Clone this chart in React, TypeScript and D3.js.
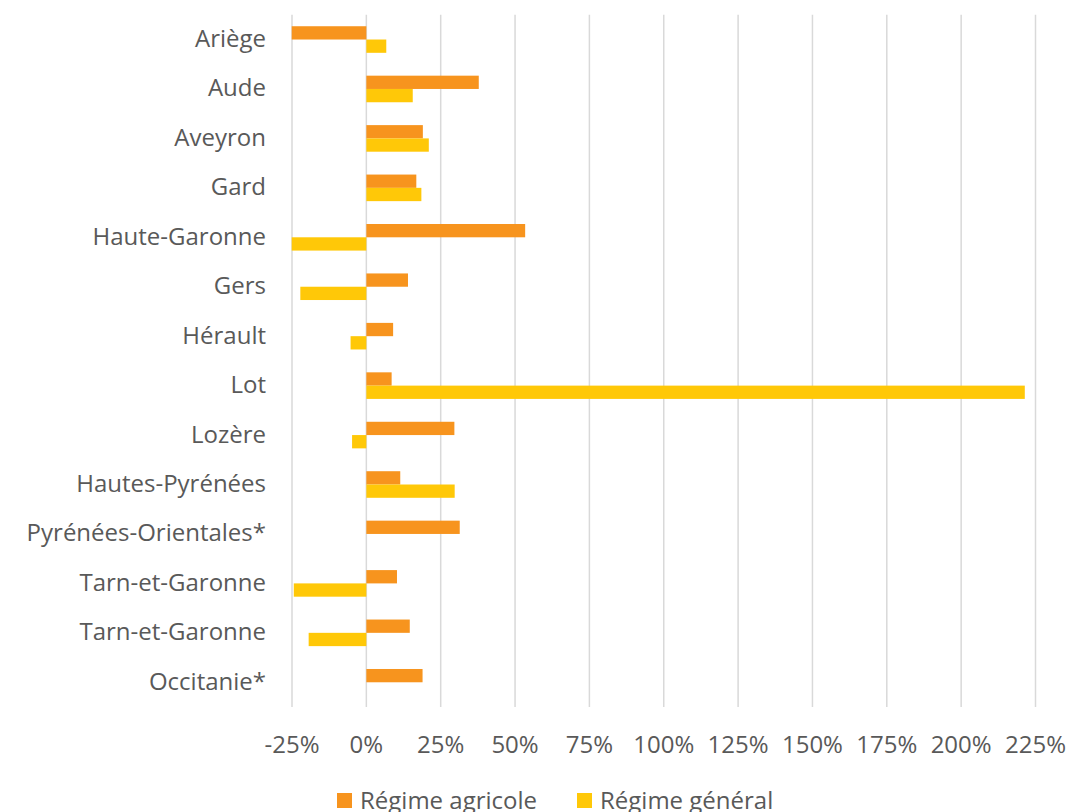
import React from "react";
import * as d3 from "d3";

const categories = [
  "Ariège", "Aude", "Aveyron", "Gard", "Haute-Garonne", "Gers", "Hérault", "Lot",
  "Lozère", "Hautes-Pyrénées", "Pyrénées-Orientales*", "Tarn-et-Garonne", "Tarn-et-Garonne", "Occitanie*",
];
const agricole: (number | null)[] = [-25.1, 37.8, 19.0, 16.8, 53.4, 14.0, 9.0, 8.5, 29.6, 11.4, 31.4, 10.3, 14.6, 18.9];
const general: (number | null)[] = [6.7, 15.6, 21.0, 18.5, -25.1, -22.2, -5.3, 221.4, -4.8, 29.7, null, -24.4, -19.4, null];
const ticks = [-25, 0, 25, 50, 75, 100, 125, 150, 175, 200, 225];
const seriesNames = ["Régime agricole", "Régime général"];
const colors = ["#F7941E", "#FFC808"];

export default function App() {
  const W = 1068, H = 812;
  const left = 292, right = 1035.5, top = 14.8, bottom = 707;
  const x = d3.scaleLinear().domain([-25, 225]).range([left, right]);
  const y = d3.scaleBand().domain(categories.map((_, i) => String(i))).range([top, bottom]);
  const inner = d3.scaleBand().domain(["0", "1"]).range([0, y.bandwidth()]).paddingOuter(0.86).paddingInner(0);
  const font = "'Open Sans', sans-serif";
  const textColor = "#595959";
  const fs = 24;
  const series = [agricole, general];
  return (
    <svg width={W} height={H} style={{ position: "absolute", left: 0, top: 0, background: "#fff" }}>
      {ticks.map((t) => (
        <line key={t} x1={x(t)} x2={x(t)} y1={top} y2={bottom} stroke="#D9D9D9" strokeWidth={1.5} />
      ))}
      {series.map((s, si) =>
        s.map((v, i) => {
          if (v === null) return null;
          const y0 = (y(String(i)) ?? 0) + (inner(String(si)) ?? 0);
          return (
            <rect key={si + "-" + i} x={Math.min(x(0), x(v))} width={Math.abs(x(v) - x(0))}
              y={y0} height={inner.bandwidth()} fill={colors[si]} />
          );
        })
      )}
      {categories.map((c, i) => (
        <text key={i} x={266} y={(y(String(i)) ?? 0) + y.bandwidth() / 2 + 7.5} textAnchor="end"
          fontFamily={font} fontSize={fs} fill={textColor}>{c}</text>
      ))}
      {ticks.map((t) => (
        <text key={t} x={x(t)} y={752.5} textAnchor="middle" fontFamily={font} fontSize={fs} fill={textColor}>
          {t + "%"}
        </text>
      ))}
      {seriesNames.map((n, i) => {
        const lx = i === 0 ? 337 : 577;
        return (
          <g key={n}>
            <rect x={lx} y={793} width={15} height={15} fill={colors[i]} />
            <text x={lx + 23} y={808.5} fontFamily={font} fontSize={fs} fill={textColor}>{n}</text>
          </g>
        );
      })}
    </svg>
  );
}
